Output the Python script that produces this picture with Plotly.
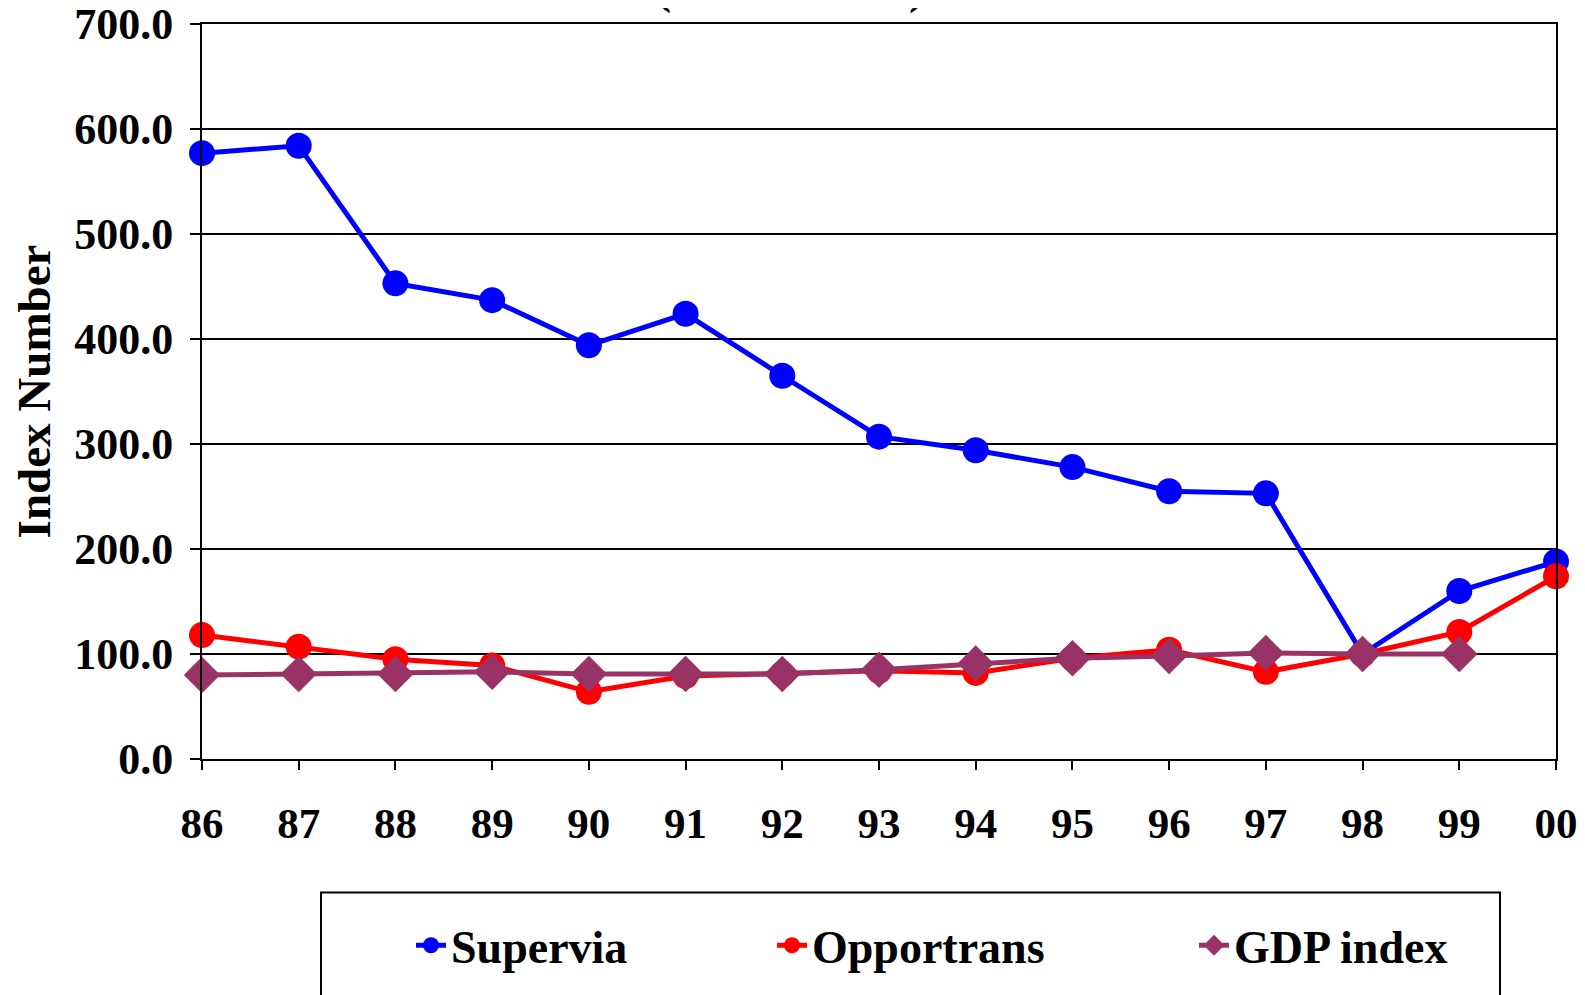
import plotly.graph_objects as go

years = ["86", "87", "88", "89", "90", "91", "92", "93", "94", "95", "96", "97", "98", "99", "00"]
supervia = [577, 584, 453, 437, 394, 424, 365, 307, 294, 278, 255, 253, 100, 160, 188]
opportrans = [118, 107, 95, 89, 64, 79, 81, 84, 82, 96, 104, 83, 100, 121, 174]
gdp_index = [80, 81, 81, 83, 81, 81, 81, 85, 91, 96, 98, 101, 100, 100, None]

FONT = "Times New Roman, Liberation Serif, serif"

fig = go.Figure()

fig.add_trace(go.Scatter(x=years, y=supervia, name="Supervia", mode="lines+markers",
                         line=dict(color="#0000FF", width=5),
                         marker=dict(symbol="circle", size=26, color="#0000FF"),
                         cliponaxis=False, legend="legend"))
fig.add_trace(go.Scatter(x=years, y=opportrans, name="Opportrans", mode="lines+markers",
                         line=dict(color="#FF0000", width=5),
                         marker=dict(symbol="circle", size=26, color="#FF0000"),
                         cliponaxis=False, legend="legend2"))
fig.add_trace(go.Scatter(x=years, y=gdp_index, name="GDP index", mode="lines+markers",
                         line=dict(color="#993366", width=5),
                         marker=dict(symbol="diamond", size=28, color="#993366"),
                         cliponaxis=False, legend="legend3"))

# plot area in page pixels: x 202..1556, y 24..759.5 (page body adds an 8px offset)
OFF = 8
L, R, T, B = 202, 1556, 24, 759.5
W, H = R - L, B - T

def px(x):
    return (x - L) / W

def py(y):
    return (B - y) / H

legend_font = dict(family=FONT, size=46, color="black", weight="bold")
legend_common = dict(orientation="h", xanchor="left", yanchor="middle", y=py(946),
                     bgcolor="rgba(0,0,0,0)", borderwidth=0, font=legend_font, itemwidth=30)

fig.update_layout(
    width=1585, height=995,
    margin=dict(l=L - OFF, r=1585 - R + OFF, t=T - OFF, b=995 - B + OFF, autoexpand=False),
    paper_bgcolor="white", plot_bgcolor="white",
    font=dict(family=FONT, color="black"),
    showlegend=True,
    legend=dict(x=px(411), **legend_common),
    legend2=dict(x=px(772), **legend_common),
    legend3=dict(x=px(1194), **legend_common),
    shapes=[dict(type="rect", xref="paper", yref="paper",
                 x0=px(321), x1=px(1500), y0=py(893), y1=py(1010),
                 line=dict(color="black", width=2), fillcolor="rgba(0,0,0,0)")],
    annotations=[dict(text="(1998 = 100)", xref="paper", yref="paper",
                      x=px(790), y=py(16), xanchor="center", yanchor="bottom",
                      showarrow=False, font=dict(family=FONT, size=52, color="black", weight="bold"))],
)

fig.update_xaxes(type="category", range=[0, 14], showgrid=False,
                 showline=True, linecolor="black", linewidth=2, mirror=True,
                 ticks="outside", ticklen=9, tickwidth=2, tickcolor="black",
                 tickfont=dict(family=FONT, size=43, color="black", weight="bold"),
                 ticklabelstandoff=16, ticklabeloverflow="allow")
fig.update_yaxes(range=[0, 700], dtick=100, tickformat=".1f",
                 showgrid=True, gridcolor="black", gridwidth=2,
                 showline=True, linecolor="black", linewidth=2, mirror=True,
                 ticks="outside", ticklen=10, tickwidth=2, tickcolor="black",
                 tickfont=dict(family=FONT, size=44, color="black", weight="bold"),
                 ticklabelstandoff=8, ticklabeloverflow="allow", zeroline=False,
                 title=dict(text="Index Number", standoff=20,
                            font=dict(family=FONT, size=47, color="black", weight="bold")))

fig.write_html("out.html")
